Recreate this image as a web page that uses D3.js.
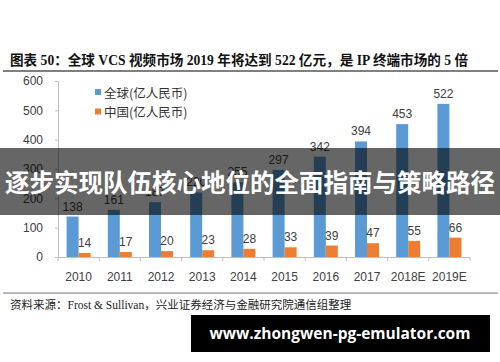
<!DOCTYPE html>
<html>
<head>
<meta charset="utf-8">
<script src="https://cdn.jsdelivr.net/npm/d3@7"></script>
<style>
  body { margin: 0; background: #fff; }
  svg { display: block; }
</style>
</head>
<body>
<svg width="500" height="362"></svg>
<script>
// data
const years = ["2010", "2011", "2012", "2013", "2014", "2015", "2016", "2017", "2018E", "2019E"];
const globalValues = [138, 161, 187, 220, 255, 297, 342, 394, 453, 522];
const chinaValues = [14, 17, 20, 23, 28, 33, 39, 47, 55, 66];
const seriesNames = ["全球(亿人民币)", "中国(亿人民币)"];
const yTicks = [0, 100, 200, 300, 400, 500, 600];

const colors = ["#5b9bd5", "#ed7d31"];
const latinCjk = "'Liberation Sans', 'Noto Sans CJK SC', sans-serif";

const svg = d3.select("svg");

// layout
const plot = { left: 58, right: 470, top: 81, bottom: 257 };

const x = d3.scaleBand().domain(years).range([plot.left, plot.right]).paddingInner(0).paddingOuter(0);
const y = d3.scaleLinear().domain([0, 600]).range([plot.bottom, plot.top]);
const barW = 12;

// title and rule lines
svg.append("text")
    .attr("x", 10).attr("y", 65)
    .attr("font-family", "'Liberation Serif', 'Noto Sans CJK SC', serif")
    .attr("font-weight", "bold")
    .attr("font-size", 13.6)
    .attr("fill", "#111")
    .text("图表 50：全球 VCS 视频市场 2019 年将达到 522 亿元，是 IP 终端市场的 5 倍");

svg.append("line")
    .attr("x1", 3).attr("x2", 498).attr("y1", 71).attr("y2", 71)
    .attr("stroke", "#555").attr("stroke-width", 1.5);

svg.append("line")
    .attr("x1", 3).attr("x2", 498).attr("y1", 293).attr("y2", 293)
    .attr("stroke", "#777").attr("stroke-width", 1);

// y axis
const yAxis = svg.append("g")
    .attr("transform", `translate(${plot.left},0)`)
    .call(d3.axisLeft(y).tickValues(yTicks).tickSize(3).tickPadding(12));
yAxis.select(".domain").attr("stroke", "#bfbfbf");
yAxis.selectAll(".tick line").attr("stroke", "#bfbfbf");
yAxis.selectAll("text")
    .attr("font-family", latinCjk).attr("font-size", 12).attr("fill", "#404040");

// x axis
const xAxis = svg.append("g")
    .attr("transform", `translate(0,${plot.bottom})`)
    .call(d3.axisBottom(x).tickSize(0).tickPadding(15));
xAxis.select(".domain").attr("stroke", "#bfbfbf");
xAxis.selectAll("text")
    .attr("font-family", latinCjk).attr("font-size", 12).attr("fill", "#404040");
// category separator ticks
svg.append("g").selectAll("line")
    .data(years.concat(["end"]))
    .join("line")
    .attr("x1", (d, i) => plot.left + i * x.bandwidth())
    .attr("x2", (d, i) => plot.left + i * x.bandwidth())
    .attr("y1", plot.bottom).attr("y2", plot.bottom + 4)
    .attr("stroke", "#bfbfbf");

// bars
const series = [globalValues, chinaValues];
series.forEach((vals, s) => {
    const g = svg.append("g");
    const xOf = (i) => x(years[i]) + x.bandwidth() / 2 - barW + s * barW;
    g.selectAll("rect")
        .data(vals)
        .join("rect")
        .attr("x", (d, i) => xOf(i))
        .attr("y", d => y(d))
        .attr("width", barW)
        .attr("height", d => plot.bottom - y(d))
        .attr("fill", colors[s]);
    g.selectAll("text")
        .data(vals)
        .join("text")
        .attr("x", (d, i) => xOf(i) + barW / 2)
        .attr("y", d => y(d) - 6)
        .attr("text-anchor", "middle")
        .attr("font-family", latinCjk)
        .attr("font-size", 12)
        .attr("fill", "#404040")
        .text(d => d);
});

// legend
const legend = svg.append("g");
seriesNames.forEach((name, i) => {
    legend.append("rect")
        .attr("x", 95).attr("y", 89 + i * 19.5)
        .attr("width", 6).attr("height", 6)
        .attr("fill", colors[i]);
    legend.append("text")
        .attr("x", 104).attr("y", 97.5 + i * 19.5)
        .attr("font-family", "'Noto Sans CJK SC', sans-serif")
        .attr("font-size", 12.5)
        .attr("fill", "#333")
        .text(name);
});

// source note
svg.append("text")
    .attr("x", 10).attr("y", 309)
    .attr("font-family", "'Liberation Serif', 'Noto Sans CJK SC', serif")
    .attr("font-size", 11.5)
    .attr("fill", "#222")
    .text("资料来源：Frost & Sullivan，兴业证券经济与金融研究院通信组整理");

// overlay banner
svg.append("rect")
    .attr("x", 0).attr("y", 148).attr("width", 500).attr("height", 67)
    .attr("fill", "#000").attr("opacity", 0.6);
svg.append("text")
    .attr("x", 250).attr("y", 192)
    .attr("text-anchor", "middle")
    .attr("font-family", "'Noto Sans CJK SC', sans-serif")
    .attr("font-weight", "bold")
    .attr("font-size", 24.5)
    .attr("fill", "#fff")
    .text("逐步实现队伍核心地位的全面指南与策略路径");

// watermark box
svg.append("rect")
    .attr("x", 191).attr("y", 315).attr("width", 299).attr("height", 37)
    .attr("fill", "#000");
svg.append("text")
    .attr("x", 340).attr("y", 339)
    .attr("text-anchor", "middle")
    .attr("font-family", "'Open Sans', 'DejaVu Sans', sans-serif")
    .attr("font-weight", "bold")
    .attr("font-size", 15.5)
    .attr("fill", "#fff")
    .text("www.zhongwen-pg-emulator.com");
</script>
</body>
</html>
